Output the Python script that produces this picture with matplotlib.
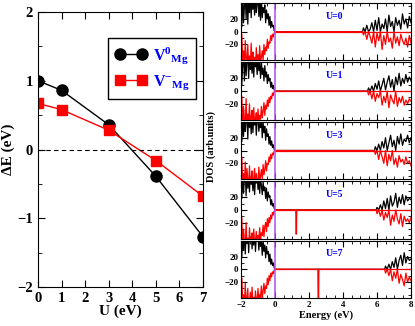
import numpy as np
import matplotlib
matplotlib.use("Agg")
import matplotlib.pyplot as plt
from matplotlib.ticker import MultipleLocator

plt.rcParams['font.family'] = ['Liberation Serif', 'DejaVu Serif']
plt.rcParams['font.weight'] = 'bold'
plt.rcParams['mathtext.fontset'] = 'custom'
plt.rcParams['mathtext.rm'] = 'Liberation Serif:bold'
plt.rcParams['mathtext.it'] = 'Liberation Serif:bold'
plt.rcParams['mathtext.bf'] = 'Liberation Serif:bold'

# ---------------- left panel data ----------------
U_vals = [0, 1, 3, 5, 7]
dE_V0 = [1.00, 0.86, 0.36, -0.39, -1.27]
dE_Vm = [0.67, 0.58, 0.28, -0.16, -0.68]
legend_labels = ["V$^{0}$$_{Mg}$", "V$^{-}$$_{Mg}$"]

# ---------------- DOS data ----------------
panel_U = [0, 1, 3, 5, 7]
val_E = [-2.00, -1.95, -1.90, -1.85, -1.80, -1.75, -1.70, -1.65, -1.60, -1.55,
         -1.50, -1.45, -1.40, -1.35, -1.30, -1.25, -1.20, -1.15, -1.10, -1.05,
         -1.00, -0.95, -0.90, -0.85, -0.80, -0.75, -0.70, -0.65, -0.60, -0.55,
         -0.50, -0.45, -0.40, -0.35, -0.30, -0.25, -0.20, -0.15, -0.10, -0.05, 0.00]

val_up = [
    [48, 8, 62, 14, 40, 55, 20, 70, 12, 52, 30, 64, 22, 58, 35, 50, 26, 66, 30, 44,
     56, 24, 48, 18, 52, 22, 38, 30, 42, 14, 34, 20, 28, 10, 24, 6, 16, 8, 10, 2, 0],
    [52, 10, 44, 60, 16, 66, 24, 48, 58, 20, 62, 34, 46, 28, 60, 22, 54, 38, 48, 26,
     50, 32, 44, 20, 46, 26, 36, 16, 40, 22, 30, 12, 26, 16, 20, 6, 14, 4, 9, 2, 0],
    [60, 14, 50, 22, 66, 30, 46, 58, 18, 62, 36, 50, 26, 64, 28, 52, 40, 56, 24, 48,
     54, 30, 42, 36, 50, 20, 44, 28, 38, 16, 34, 22, 26, 10, 22, 8, 15, 5, 9, 2, 0],
    [56, 18, 64, 26, 50, 60, 22, 68, 34, 54, 28, 62, 40, 52, 30, 58, 24, 50, 42, 56,
     32, 48, 26, 50, 38, 24, 44, 30, 36, 18, 34, 14, 28, 20, 22, 8, 16, 6, 10, 3, 0],
    [62, 20, 54, 30, 68, 24, 58, 40, 64, 26, 56, 46, 60, 32, 52, 38, 62, 28, 50, 44,
     54, 30, 48, 36, 44, 22, 46, 28, 38, 18, 36, 24, 28, 12, 24, 8, 16, 6, 10, 3, 0],
]
val_dn = [
    [-55, -4, -48, -30, -65, -14, -42, -50, -20, -60, -38, -52, -18, -62, -32, -45,
     -40, -58, -25, -50, -36, -55, -22, -48, -40, -30, -44, -20, -36, -24, -30, -12,
     -26, -16, -18, -6, -14, -4, -8, -2, 0],
    [-50, -8, -60, -24, -44, -56, -12, -62, -36, -48, -20, -58, -40, -30, -64, -26,
     -52, -44, -34, -56, -28, -50, -38, -44, -24, -42, -32, -18, -38, -22, -28, -14,
     -24, -10, -18, -8, -12, -3, -7, -1, 0],
    [-62, -10, -50, -36, -58, -18, -66, -28, -46, -54, -24, -60, -42, -32, -56, -44,
     -28, -60, -36, -48, -52, -26, -46, -40, -30, -44, -22, -38, -30, -16, -32, -20,
     -22, -10, -18, -6, -13, -4, -7, -1, 0],
    [-58, -12, -64, -30, -50, -60, -20, -56, -44, -62, -28, -54, -46, -36, -60, -30,
     -52, -48, -34, -58, -40, -46, -28, -50, -36, -40, -24, -42, -26, -20, -34, -14,
     -26, -12, -20, -8, -14, -4, -8, -2, 0],
    [-60, -14, -54, -40, -66, -22, -58, -46, -30, -62, -50, -36, -58, -28, -52, -44,
     -60, -34, -48, -52, -30, -50, -40, -44, -26, -46, -34, -22, -38, -26, -30, -14,
     -24, -10, -18, -6, -12, -4, -7, -1, 0],
]

cond_start = [5.2, 5.5, 5.9, 6.0, 6.5]
cond_up = [
    [6, 0, 10, 0, 4, 14, 0, 18, 2, 22, 0, 12, 5, 20, 0, 26, 8, 16, 0, 22, 10, 18, 4, 28, 12, 20, 6, 24, 14],
    [5, 0, 8, 0, 12, 3, 16, 0, 10, 20, 2, 14, 24, 6, 18, 0, 22, 10, 28, 8, 20, 12, 26, 14, 22, 16],
    [6, 0, 10, 0, 14, 4, 20, 0, 12, 24, 6, 16, 0, 22, 10, 26, 8, 18, 14, 24, 12, 20],
    [4, 0, 8, 0, 14, 2, 18, 0, 22, 6, 12, 26, 4, 20, 10, 24, 8, 22, 14, 18, 16],
    [5, 0, 8, 0, 12, 3, 18, 0, 14, 22, 6, 26, 10, 20, 14, 16],
]
cond_dn = [
    [-5, 0, -12, 0, -8, -18, 0, -24, -2, -14, 0, -28, -6, -20, 0, -16, -10, -26, 0, -18, -8, -22, -4, -14, -20, -10, -24, -6, -18],
    [-6, 0, -12, 0, -16, -4, -10, 0, -22, -8, -18, 0, -26, -6, -14, -20, 0, -24, -10, -18, -8, -22, -14, -20, -12, -16],
    [-6, 0, -14, 0, -10, -20, 0, -24, -6, -16, 0, -22, -12, -26, -8, -18, -14, -22, -10, -20, -16, -24],
    [-6, 0, -10, 0, -16, -4, -12, 0, -24, -8, -18, 0, -14, -22, -6, -26, -10, -18, -14, -20, -12],
    [-6, 0, -10, 0, -18, -4, -14, 0, -22, -8, -16, -26, -6, -20, -12, -18],
]
defect_E = [None, None, None, 1.25, 2.55]
defect_depth = [None, None, None, -38, -60]

# ---------------- figure ----------------
fig = plt.figure(figsize=(4.15, 3.26), dpi=100)

axL = fig.add_axes([0.0916, 0.1196, 0.3976, 0.8436])
axL.plot(U_vals, dE_V0, '-o', color='black', ms=8, lw=1.0, label=legend_labels[0])
axL.plot(U_vals, dE_Vm, '-s', color='red', ms=7.5, lw=1.0, label=legend_labels[1])
axL.axhline(0, color='black', lw=0.8, ls=(0, (4, 3)))
axL.set_xlim(0, 7)
axL.set_ylim(-2, 2)
axL.xaxis.set_major_locator(MultipleLocator(1))
axL.yaxis.set_major_locator(MultipleLocator(1))
axL.yaxis.set_minor_locator(MultipleLocator(0.5))
axL.tick_params(direction='in', top=True, right=True, which='both', labelsize=10.5)
axL.tick_params(which='major', length=5)
axL.tick_params(which='minor', length=3)
for lab in axL.get_xticklabels() + axL.get_yticklabels():
    lab.set_fontweight('bold')
axL.set_xlabel('U (eV)', fontsize=11, fontweight='bold', labelpad=0)
axL.set_ylabel('ΔE (eV)', fontsize=11, fontweight='bold', labelpad=2)
leg = axL.legend(loc='upper right', bbox_to_anchor=(0.96, 0.905), fontsize=11.5,
                 numpoints=2, handlelength=2.0, fancybox=False, framealpha=1,
                 edgecolor='black', borderpad=0.45, labelspacing=0.45,
                 handletextpad=0.35, borderaxespad=0)
leg.get_frame().set_linewidth(1.0)
for t in leg.get_texts():
    t.set_color('blue')

# DOS panels
top = 1 - 3 / 326
bottom = 1 - 298 / 326
left = 241 / 415
right = 411 / 415
n = 5
gap = 2 / 326
h = (top - bottom - (n - 1) * gap) / n
axes_R = []
for i in range(n):
    y0 = top - (i + 1) * h - i * gap
    ax = fig.add_axes([left, y0, right - left, h])
    axes_R.append(ax)
    vE = list(val_E)
    cE = list(np.round(cond_start[i] + 0.1 * np.arange(len(cond_up[i])), 3))
    # spin up (black): valence, flat gap, conduction
    xu = vE + [cond_start[i] - 0.05] + cE
    yu = list(val_up[i]) + [0] + list(cond_up[i])
    ax.plot(xu, yu, color='black', lw=0.9)
    # spin down (red)
    xd = list(vE)
    yd = list(val_dn[i])
    if defect_E[i] is not None:
        d = defect_E[i]
        xd += [d - 0.03, d - 0.01, d + 0.01, d + 0.03]
        yd += [0, defect_depth[i], defect_depth[i], 0]
    xd += [cond_start[i] - 0.05] + cE
    yd += [0] + list(cond_dn[i])
    ax.plot(xd, yd, color='red', lw=0.9)
    ax.axhline(0, xmin=0.2, color='red', lw=0.9)
    ax.axvline(0, color='#b050e8', lw=1.1)
    ax.set_xlim(-2, 8)
    ax.set_ylim(-45, 45)
    ax.xaxis.set_major_locator(MultipleLocator(2))
    ax.xaxis.set_minor_locator(MultipleLocator(0.5))
    ax.yaxis.set_major_locator(MultipleLocator(20))
    ax.yaxis.set_minor_locator(MultipleLocator(10))
    ax.tick_params(direction='in', top=True, right=True, which='both', labelsize=6.5, pad=2)
    ax.tick_params(which='major', length=4)
    ax.tick_params(which='minor', length=2.5)
    ax.set_yticks([-20, 0, 20])
    for lab in ax.get_xticklabels() + ax.get_yticklabels():
        lab.set_fontweight('bold')
    ax.text(3.5, 24, 'U=%d' % panel_U[i], color='blue', fontsize=7, fontweight='bold',
            ha='center', va='center')
    if i < n - 1:
        ax.tick_params(labelbottom=False)

axes_R[-1].set_xlabel('Energy (eV)', fontsize=7.5, fontweight='bold', labelpad=1)
fig.text(0.508, 0.55, 'DOS (arb.units)', rotation=90, fontsize=7.5, fontweight='bold',
         ha='center', va='center')

fig.savefig('out.png', dpi=100)
